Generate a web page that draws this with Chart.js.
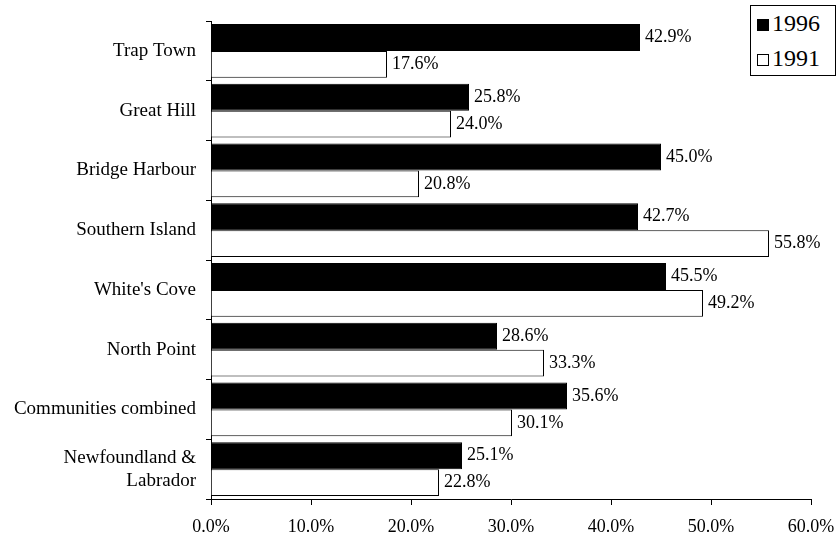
<!DOCTYPE html>
<html>
<head>
<meta charset="utf-8">
<script src="https://cdn.jsdelivr.net/npm/chart.js@4"></script>
<style>
  html, body { margin: 0; padding: 0; background: #fff; }
  #wrap { position: relative; width: 836px; height: 539px; }
  #legend {
    position: absolute; left: 750px; top: 5px; width: 86px; height: 71px;
    border: 1px solid #000; box-sizing: border-box; background: #fff;
    font-family: "Liberation Serif", serif; font-size: 24px; color: #000;
  }
  #legend .item { position: absolute; left: 6px; height: 30px; line-height: 30px; white-space: nowrap; }
  #legend .sw { display: inline-block; width: 12px; height: 12px; margin-right: 3px; box-sizing: border-box; border: 1px solid #000; vertical-align: 0px; }
</style>
</head>
<body>
<div id="wrap">
  <canvas id="chart" width="836" height="539"></canvas>
  <div id="legend">
    <div class="item" style="top:2px"><span class="sw" style="background:#000"></span>1996</div>
    <div class="item" style="top:37px"><span class="sw" style="background:#fff"></span>1991</div>
  </div>
</div>
<script>
// chart data
const communities = [
  'Trap Town', 'Great Hill', 'Bridge Harbour', 'Southern Island',
  "White's Cove", 'North Point', 'Communities combined',
  ['Newfoundland &', 'Labrador']
];
const values1996 = [42.9, 25.8, 45.0, 42.7, 45.5, 28.6, 35.6, 25.1];
const values1991 = [17.6, 24.0, 20.8, 55.8, 49.2, 33.3, 30.1, 22.8];
const xTicks = [0, 10, 20, 30, 40, 50, 60];

const serif = '"Liberation Serif", "Times New Roman", serif';

// draw the percentage next to each bar
const barLabels = {
  id: 'barLabels',
  afterDatasetsDraw(chart) {
    const ctx = chart.ctx;
    ctx.save();
    ctx.font = '18px ' + serif;
    ctx.fillStyle = '#000';
    ctx.textAlign = 'left';
    ctx.textBaseline = 'middle';
    chart.data.datasets.forEach((ds, i) => {
      chart.getDatasetMeta(i).data.forEach((bar, j) => {
        ctx.fillText(ds.data[j].toFixed(1) + '%', bar.x + 5, bar.y);
      });
    });
    ctx.restore();
  }
};

new Chart(document.getElementById('chart'), {
  type: 'bar',
  data: {
    labels: communities,
    datasets: [
      { label: '1996', data: values1996, backgroundColor: '#000', borderColor: '#000', borderWidth: 1 },
      { label: '1991', data: values1991, backgroundColor: '#fff', borderColor: '#000', borderWidth: 1 }
    ]
  },
  options: {
    indexAxis: 'y',
    responsive: false,
    animation: false,
    layout: { padding: { top: 21, right: 25, left: 0, bottom: 0 } },
    datasets: { bar: { categoryPercentage: 0.9, barPercentage: 1.0 } },
    plugins: { legend: { display: false }, tooltip: { enabled: false } },
    scales: {
      x: {
        min: 0, max: 60,
        afterBuildTicks: axis => { axis.ticks = xTicks.map(v => ({ value: v })); },
        afterFit: axis => { axis.height = 40; axis.paddingLeft = 0; axis.paddingRight = 0; },
        grid: { drawOnChartArea: false, tickLength: 6, color: '#000' },
        border: { color: '#000', width: 1 },
        ticks: {
          color: '#000', padding: 11,
          font: { family: serif, size: 18 },
          callback: v => Number(v).toFixed(1) + '%'
        }
      },
      y: {
        afterFit: axis => { axis.width = 211; axis.paddingTop = 0; axis.paddingBottom = 0; },
        grid: { drawOnChartArea: false, tickLength: 5, color: '#000', offset: true },
        border: { color: '#000', width: 1 },
        ticks: {
          color: '#000', padding: 10,
          font: { family: serif, size: 19, lineHeight: 1.2 }
        }
      }
    }
  },
  plugins: [barLabels]
});
</script>
</body>
</html>
